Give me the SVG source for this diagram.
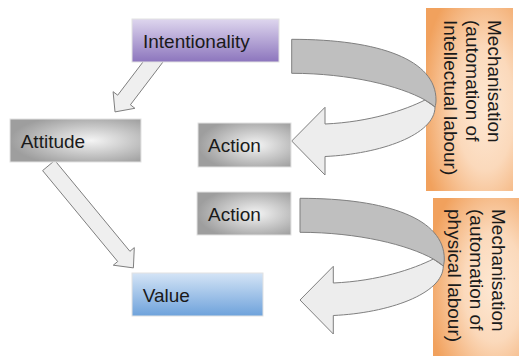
<svg xmlns="http://www.w3.org/2000/svg" xmlns:xlink="http://www.w3.org/1999/xlink" width="519" height="356" viewBox="0 0 519 356">
<defs>
<style>
.lbl{font-family:"Liberation Sans",Arial,sans-serif;font-size:19px;fill:#1a1a1a}
.box{stroke:#e2e2e2;stroke-width:1}
.arr{fill:#efefef;stroke:#7f7f7f;stroke-width:1;stroke-linejoin:miter}
.dark{fill:#bfbfbf;stroke:#7f7f7f;stroke-width:1;stroke-linejoin:round}
.light{fill:#ededed;stroke:#7f7f7f;stroke-width:1;stroke-linejoin:miter}
</style>
<radialGradient id="gGray" cx="0.62" cy="0.5" r="0.62">
<stop offset="0" stop-color="#f4f4f4"/>
<stop offset="1" stop-color="#9e9e9e"/>
</radialGradient>
<radialGradient id="gOrange" cx="0.68" cy="0.55" r="0.75">
<stop offset="0" stop-color="#fde8d4"/>
<stop offset="0.45" stop-color="#fbd9bb"/>
<stop offset="1" stop-color="#f1a15d"/>
</radialGradient>
<linearGradient id="gPurple" x1="0" y1="0" x2="0" y2="1">
<stop offset="0" stop-color="#ded6ee"/>
<stop offset="1" stop-color="#8c75bd"/>
</linearGradient>
<linearGradient id="gBlue" x1="0" y1="0" x2="0" y2="1">
<stop offset="0" stop-color="#d4e4f6"/>
<stop offset="1" stop-color="#6ea2db"/>
</linearGradient>
<g id="curved">
<path class="light" d="M425,100 C405,110 370,122 325,124 L325,107.3 L291.7,141 L325,175 L325,156.5 C380,154 435,135 435,107 Z"/>
<path class="dark" d="M291.7,39.3 C380,39.3 436,60 436,100 C436,103 435.5,105 435,107 C432,104 428,102 425,100 C400,86 350,73.3 291.7,73.3 Z"/>
</g>
</defs>
<g id="mech1">
<rect x="426" y="8" width="87" height="183" fill="url(#gOrange)"/>
<text class="lbl" transform="translate(488,20) rotate(90)"><tspan x="0" y="0">Mechanisation</tspan><tspan x="0" y="22">(automation of</tspan><tspan x="0" y="44">Intellectual labour)</tspan></text>
</g>
<g id="mech2">
<rect x="433" y="198" width="90" height="162" fill="url(#gOrange)"/>
<text class="lbl" transform="translate(492,209) rotate(90)"><tspan x="0" y="0">Mechanisation</tspan><tspan x="0" y="22">(automation of</tspan><tspan x="0" y="44">physical labour)</tspan></text>
</g>
<g id="connectors">
<polygon class="arr" points="146,58 117.7,95.2 113.1,91.7 115,111.9 134.9,108.3 130.4,104.8 166,58"/>
<polygon class="arr" points="54.8,160.4 129.9,251.3 134.3,247.6 133.4,267.9 113.3,265.2 117.7,261.5 42.6,170.6"/>
<use xlink:href="#curved"/>
<use xlink:href="#curved" transform="translate(8.3,159)"/>
</g>
<g id="intentionality">
<rect class="box" x="132" y="19" width="147" height="43" fill="url(#gPurple)"/>
<text class="lbl" x="143" y="48">Intentionality</text>
</g>
<g id="attitude">
<rect class="box" x="10" y="119" width="131" height="43" fill="url(#gGray)"/>
<text class="lbl" x="20.7" y="147.5">Attitude</text>
</g>
<g id="action1">
<rect class="box" x="198" y="123" width="93" height="44" fill="url(#gGray)"/>
<text class="lbl" x="208" y="152">Action</text>
</g>
<g id="action2">
<rect class="box" x="197" y="192" width="94" height="43" fill="url(#gGray)"/>
<text class="lbl" x="208" y="220.5">Action</text>
</g>
<g id="value">
<rect class="box" x="132" y="273" width="131" height="43" fill="url(#gBlue)"/>
<text class="lbl" x="142.7" y="301.5">Value</text>
</g>
</svg>
